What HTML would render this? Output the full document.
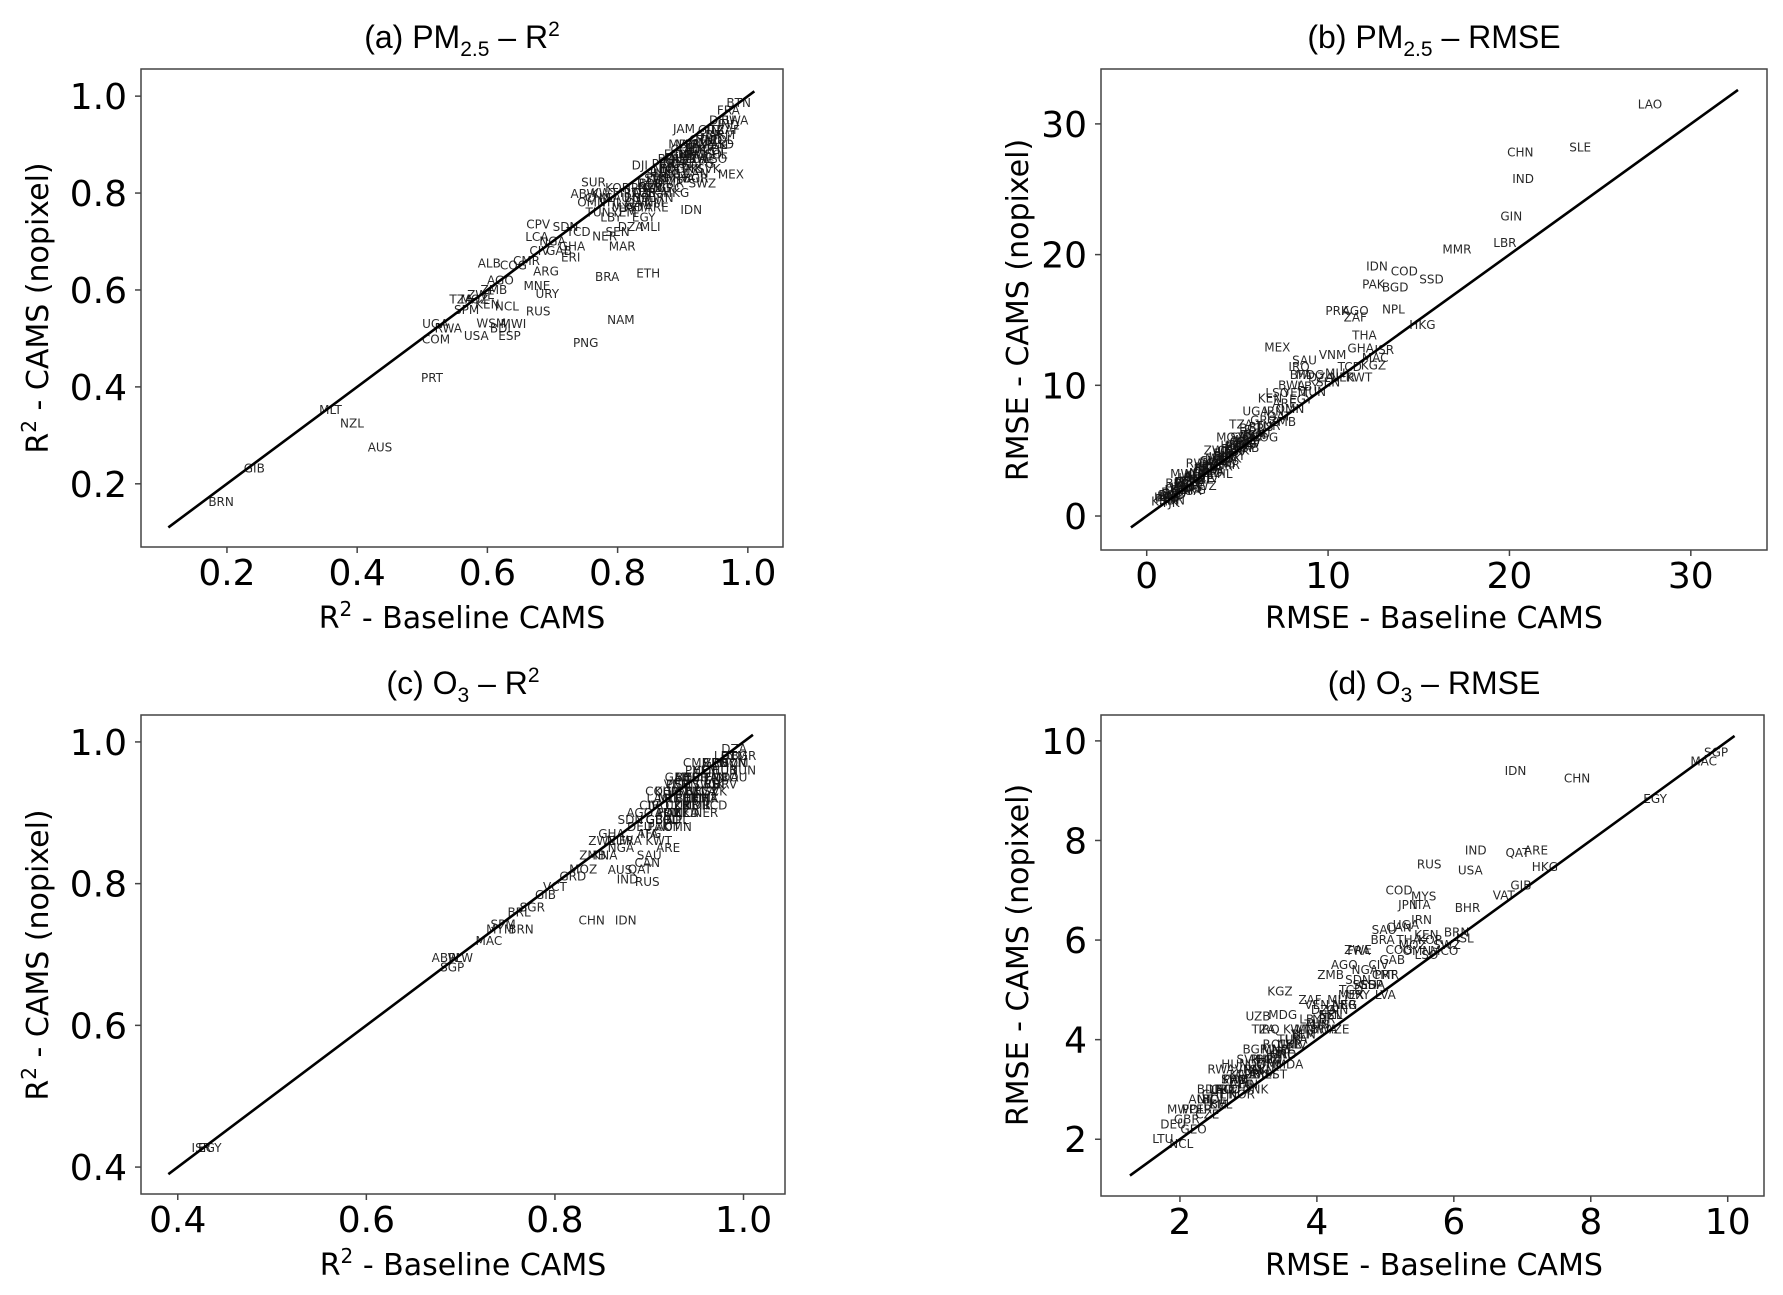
<!DOCTYPE html>
<html><head><meta charset="utf-8"><style>
html,body{margin:0;padding:0;background:#fff;}
svg{display:block;}
.tick{font-family:"DejaVu Sans","Liberation Sans",sans-serif;font-size:36px;fill:#000;}
.lab{font-family:"DejaVu Sans","Liberation Sans",sans-serif;font-size:30px;fill:#000;}
.ttl{font-family:"Liberation Sans",sans-serif;font-size:32px;fill:#000;}
.cc{font-family:"DejaVu Sans",sans-serif;font-size:12px;fill:#111;opacity:0.9;}
</style></head><body>
<svg id="fig" width="1783" height="1295" viewBox="0 0 1783 1295" xmlns="http://www.w3.org/2000/svg">
<rect width="1783" height="1295" fill="#fff"/>
<text class="ttl" x="462" y="48" text-anchor="middle">(a) PM<tspan font-size="21" dy="8">2.5</tspan><tspan dy="-8"> – R</tspan><tspan font-size="21" dy="-12">2</tspan></text>
<text class="ttl" x="1434" y="48" text-anchor="middle">(b) PM<tspan font-size="21" dy="8">2.5</tspan><tspan dy="-8"> – RMSE</tspan></text>
<text class="ttl" x="463" y="694" text-anchor="middle">(c) O<tspan font-size="21" dy="8">3</tspan><tspan dy="-8"> – R</tspan><tspan font-size="21" dy="-12">2</tspan></text>
<text class="ttl" x="1434" y="694" text-anchor="middle">(d) O<tspan font-size="21" dy="8">3</tspan><tspan dy="-8"> – RMSE</tspan></text>
<text class="lab" x="462" y="628" text-anchor="middle">R<tspan font-size="20" dy="-12">2</tspan><tspan dy="12"> - Baseline CAMS</tspan></text>
<text class="lab" x="1434" y="628" text-anchor="middle">RMSE - Baseline CAMS</text>
<text class="lab" x="463" y="1275" text-anchor="middle">R<tspan font-size="20" dy="-12">2</tspan><tspan dy="12"> - Baseline CAMS</tspan></text>
<text class="lab" x="1434" y="1275" text-anchor="middle">RMSE - Baseline CAMS</text>
<text class="lab" transform="translate(48,308) rotate(-90)" text-anchor="middle">R<tspan font-size="20" dy="-12">2</tspan><tspan dy="12"> - CAMS (nopixel)</tspan></text>
<text class="lab" transform="translate(1028,310) rotate(-90)" text-anchor="middle">RMSE - CAMS (nopixel)</text>
<text class="lab" transform="translate(48,955) rotate(-90)" text-anchor="middle">R<tspan font-size="20" dy="-12">2</tspan><tspan dy="12"> - CAMS (nopixel)</tspan></text>
<text class="lab" transform="translate(1028,955) rotate(-90)" text-anchor="middle">RMSE - CAMS (nopixel)</text>
</svg>
<script>
// ---- Panel (a) PM2.5 R2 ----
const aTicks = [0.2, 0.4, 0.6, 0.8, 1.0];
const aLine = [0.11, 1.01];
const aCodes = ["BRN","GIB","MLT","NZL","AUS","PRT","COM","USA","ESP","WSM","PNG","NAM","BRA","ETH","RUS","NCL","URY","MNE","ARG","ALB","SPM","ERI","CPV","SUR","ABW","JAM","MEX","IDN","BTN","DJI","MAR","LCA",
"FRA","DEU","ITA","GBR","POL","CZE","AUT","CHE","BEL","NLD","SWE","NOR","FIN","DNK","HUN","SVK","SVN","HRV","BGR","ROU","GRC","TUR","IRN","IRQ","SAU","KWT","QAT","ARE","OMN","YEM","EGY","LBY","TUN","DZA","SEN","MLI","NER","TCD","SDN","NGA","GHA","CIV","CMR","GAB","COG","AGO","ZMB","ZWE","MOZ","TZA","KEN","UGA","RWA","BDI","MWI","MDG","ZAF","BWA","LSO","SWZ",
"PER","BOL","ECU","COL","VEN","PRY","GTM","HND","SLV","NIC","CRI","PAN","CUB","DOM","HTI","UKR","BLR","LTU","LVA","EST","MDA","GEO","ARM","AZE","UZB","TKM","KGZ","TJK","AFG","PAK","BGD","NPL","LKA","MMR","THA","LAO","KHM","VNM","MYS","PHL","CHN","KOR","JPN","MNG","HKG","CAN","CHL","IND","SSD","GIN"];
const aBase = [0.191,0.242,0.359,0.392,0.435,0.515,0.521,0.583,0.634,0.606,0.751,0.805,0.784,0.847,0.678,0.630,0.692,0.676,0.690,0.603,0.568,0.728,0.678,0.763,0.749,0.902,0.974,0.913,0.986,0.834,0.807,0.676,
0.97,0.96,0.95,0.94,0.96,0.93,0.92,0.95,0.91,0.90,0.93,0.89,0.88,0.91,0.87,0.94,0.86,0.89,0.92,0.85,0.88,0.84,0.87,0.82,0.80,0.78,0.83,0.86,0.76,0.81,0.84,0.79,0.77,0.82,0.80,0.85,0.78,0.74,0.72,0.70,0.73,0.68,0.66,0.71,0.64,0.62,0.61,0.59,0.58,0.56,0.60,0.52,0.54,0.62,0.64,0.90,0.97,0.98,0.95,0.93,
0.87,0.88,0.89,0.90,0.91,0.92,0.93,0.94,0.86,0.87,0.88,0.89,0.90,0.91,0.92,0.93,0.85,0.86,0.88,0.90,0.92,0.94,0.96,0.84,0.85,0.87,0.89,0.91,0.93,0.95,0.83,0.84,0.86,0.88,0.90,0.82,0.83,0.85,0.81,0.79,0.77,0.80,0.83,0.86,0.89,0.92,0.95,0.97,0.96,0.94];
const aNopix = [0.162,0.232,0.352,0.324,0.275,0.418,0.498,0.505,0.505,0.531,0.491,0.538,0.627,0.634,0.556,0.566,0.592,0.608,0.638,0.655,0.559,0.667,0.735,0.822,0.798,0.932,0.838,0.765,0.986,0.857,0.690,0.709,
0.97,0.95,0.93,0.92,0.91,0.90,0.89,0.89,0.88,0.87,0.87,0.86,0.85,0.85,0.84,0.85,0.83,0.83,0.83,0.82,0.81,0.80,0.79,0.80,0.79,0.80,0.78,0.77,0.78,0.76,0.75,0.75,0.76,0.73,0.72,0.73,0.71,0.72,0.73,0.70,0.69,0.68,0.66,0.68,0.65,0.62,0.60,0.59,0.58,0.58,0.57,0.53,0.52,0.52,0.53,0.90,0.93,0.95,0.87,0.82,
0.86,0.87,0.88,0.89,0.90,0.90,0.91,0.91,0.84,0.85,0.86,0.87,0.88,0.88,0.89,0.89,0.82,0.83,0.85,0.86,0.87,0.88,0.92,0.80,0.81,0.83,0.84,0.85,0.86,0.90,0.79,0.79,0.80,0.82,0.83,0.77,0.77,0.78,0.77,0.78,0.79,0.81,0.81,0.81,0.80,0.84,0.88,0.94,0.90,0.93];

// ---- Panel (b) PM2.5 RMSE ----
const bTicks = [0, 10, 20, 30];
const bLine = [-0.87, 32.6];
const bCodes = ["LAO","SLE","CHN","IND","GIN","LBR","MMR","IDN","COD","SSD","PAK","BGD","PRK","AGO","ZAF","NPL","HKG","THA","GHA","ISR","MAC","MEX","SAU","VNM","IRQ","BFA","KWT",
"FRA","DEU","ITA","GBR","POL","CZE","AUT","CHE","BEL","NLD","SWE","NOR","FIN","DNK","HUN","SVK","SVN","HRV","BGR","ROU","GRC","TUR","IRN","QAT","ARE","OMN","YEM","EGY","LBY","TUN","DZA","SEN","MLI","NER","TCD","SDN","NGA","CIV","CMR","GAB","COG","ZMB","ZWE","MOZ","TZA","KEN","UGA","RWA","BDI","MWI","MDG","BWA","LSO","SWZ","PHL","KHM","UZB","TJK","AFG","KGZ",
"PER","BOL","ECU","COL","VEN","PRY","GTM","HND","SLV","NIC","CRI","PAN","CUB","DOM","HTI","UKR","BLR","LTU","LVA","EST","MDA","GEO","ARM","AZE","TKM","LKA","MYS","KOR","JPN","MNG","CAN","CHL","USA","RUS","AUS","NZL","BRA","ARG","URY","ESP"];
const bBase = [27.75,23.9,20.6,20.75,20.1,19.75,17.1,12.7,14.2,15.7,12.5,13.7,10.5,11.5,11.5,13.6,15.2,12.0,11.8,13.1,12.6,7.2,8.7,10.25,8.4,8.5,11.7,
1.2,1.5,1.8,2.0,2.2,2.5,2.7,3.0,3.2,3.5,3.7,4.0,4.2,4.5,4.8,5.0,5.3,5.6,5.8,6.1,6.4,6.7,7.0,7.3,7.6,7.9,8.2,8.5,8.9,9.2,9.6,10.0,10.4,10.8,11.2,1.4,2.3,3.4,4.4,5.5,6.5,7.5,3.9,4.6,5.2,6.8,6.0,2.9,1.6,2.0,9.0,8.0,7.2,3.1,4.1,1.0,1.1,1.3,2.6,12.5,
1.1,1.3,1.5,1.7,1.9,2.1,2.3,2.5,2.7,2.9,3.1,3.3,3.5,3.7,3.9,4.1,4.3,4.5,4.7,4.9,5.1,5.3,5.5,5.7,5.9,1.6,2.2,2.8,3.4,4.0,4.6,5.2,5.8,6.3,2.4,3.0,3.6,4.2,4.8,5.4];
const bNopix = [31.5,28.2,27.8,25.8,22.9,20.9,20.4,19.1,18.7,18.1,17.7,17.5,15.7,15.7,15.2,15.8,14.6,13.8,12.8,12.7,12.1,12.9,11.9,12.3,11.4,10.8,10.6,
1.5,1.8,2.2,2.0,2.6,2.4,3.1,2.8,3.6,3.3,4.2,3.8,4.8,4.4,5.4,5.0,6.0,5.6,6.7,6.3,7.3,6.9,8.0,7.6,8.6,8.2,9.4,8.9,9.9,9.5,10.6,10.2,10.9,10.6,11.4,1.2,1.9,2.9,3.9,5.2,6.0,7.2,5.0,6.0,7.0,9.0,8.0,4.0,2.5,3.2,10.8,10.0,9.4,2.3,3.2,1.1,1.4,1.0,2.0,11.5,
1.3,1.6,1.7,2.1,2.2,2.5,2.6,2.9,3.0,3.3,3.4,3.7,3.8,4.1,4.2,4.5,4.6,4.9,5.0,5.3,5.4,5.7,5.8,6.1,6.2,2.0,2.6,3.2,3.8,4.4,5.0,5.6,6.2,6.8,2.2,2.8,3.4,4.0,4.6,5.2];

// ---- Panel (c) O3 R2 ----
const cTicks = [0.4, 0.6, 0.8, 1.0];
const cLine = [0.39, 1.01];
const cCodes = ["EGY","ISR","ABW","SGP","PLW","MAC","MYM","SPM","BRN","BRL","SGR","GIB","VCT","GRD","CHN","IDN","AUS","IND","RUS","KNA","NLW","CAN",
"FRA","DEU","ITA","GBR","POL","CZE","AUT","CHE","BEL","NLD","SWE","NOR","FIN","DNK","HUN","SVK","SVN","HRV","BGR","ROU","GRC","TUR","IRN","IRQ","SAU","KWT","QAT","ARE","OMN","YEM","LBY","TUN","DZA","SEN","MLI","NER","TCD","SDN","NGA","GHA","CIV","CMR","GAB","COG","AGO","ZMB","ZWE","MOZ",
"PER","BOL","ECU","COL","VEN","PRY","GTM","HND","SLV","NIC","CRI","PAN","CUB","DOM","HTI","UKR","BLR","LTU","LVA","EST","MDA","GEO","ARM","AZE","UZB","TKM","KGZ","TJK","AFG","PAK","BGD","NPL","LKA","MMR","THA","LAO","KHM","VNM","MYS","PHL"];
const cBase = [0.434,0.425,0.684,0.691,0.700,0.730,0.742,0.745,0.764,0.762,0.776,0.790,0.800,0.819,0.839,0.875,0.869,0.877,0.898,0.853,0.869,0.898,
0.88,0.89,0.90,0.91,0.92,0.93,0.92,0.94,0.95,0.94,0.96,0.95,0.97,0.96,0.98,0.97,0.99,0.98,1.0,0.99,0.97,0.95,0.93,0.91,0.90,0.91,0.89,0.92,0.93,0.96,0.98,1.0,0.99,0.94,0.92,0.96,0.97,0.88,0.87,0.86,0.90,0.95,0.93,0.91,0.89,0.84,0.85,0.83,
0.93,0.94,0.95,0.96,0.97,0.98,0.99,0.93,0.94,0.95,0.96,0.97,0.98,0.99,0.92,0.93,0.94,0.95,0.96,0.97,0.98,0.91,0.92,0.93,0.94,0.95,0.96,0.97,0.90,0.91,0.92,0.93,0.94,0.95,0.96,0.91,0.92,0.93,0.94,0.95,0.96,0.97,0.98,0.99];
const cNopix = [0.427,0.427,0.695,0.682,0.695,0.719,0.735,0.742,0.735,0.759,0.766,0.784,0.795,0.810,0.748,0.748,0.819,0.806,0.802,0.840,0.861,0.829,
0.86,0.88,0.87,0.89,0.90,0.91,0.88,0.92,0.93,0.90,0.94,0.91,0.95,0.92,0.96,0.93,0.97,0.94,0.98,0.95,0.97,0.95,0.93,0.91,0.84,0.86,0.82,0.85,0.88,0.96,0.98,0.96,0.99,0.94,0.92,0.90,0.91,0.89,0.85,0.87,0.91,0.97,0.95,0.93,0.90,0.84,0.86,0.82,
0.94,0.95,0.95,0.96,0.97,0.97,0.98,0.92,0.93,0.93,0.94,0.95,0.96,0.97,0.90,0.91,0.92,0.92,0.93,0.94,0.95,0.89,0.90,0.90,0.91,0.92,0.93,0.94,0.87,0.88,0.89,0.89,0.90,0.91,0.92,0.92,0.93,0.94,0.95,0.96,0.96,0.97,0.97,0.98];

// ---- Panel (d) O3 RMSE ----
const dTicks = [2, 4, 6, 8, 10];
const dLine = [1.27, 10.1];
const dCodes = ["SGP","MAC","EGY","IDN","CHN","IND","QAT","ARE","RUS","USA","HKG","GIB","VAT","COD","MYS","JPN","ITA","BHR","IRN","SAU","CAN","BRA","THA","KOR","BRN","ISL","FRA","OMN","MCO","KGZ","UZB","TZA","VEN","LTU","NCL",
"DEU","GBR","POL","CZE","AUT","CHE","BEL","NLD","SWE","NOR","FIN","DNK","HUN","SVK","SVN","HRV","BGR","ROU","GRC","TUR","IRQ","KWT","YEM","LBY","TUN","DZA","SEN","MLI","NER","TCD","SDN","NGA","GHA","CIV","CMR","GAB","COG","AGO","ZMB","ZWE","MOZ","KEN","UGA","RWA","BDI","MWI","MDG","ZAF","BWA","LSO","SWZ","LVA","EST","MDA","GEO","ARM","AZE","KAZ",
"PER","BOL","ECU","COL","PRY","GTM","HND","SLV","NIC","CRI","PAN","CUB","DOM","HTI","UKR","BLR","TKM","TJK","AFG","PAK","BGD","NPL","LKA","MMR","LAO","KHM","VNM","PHL","MNG","CHL","AUS","NZL","ARG","URY","ESP","PRT","MEX","SSD","GIN","LBR"];
const dBase = [9.83,9.65,8.94,6.9,7.8,6.32,6.93,7.2,5.64,6.24,7.33,6.98,6.73,5.2,5.56,5.33,5.53,6.2,5.53,4.98,5.2,4.96,5.34,5.66,6.04,6.16,4.61,5.46,5.86,3.46,3.14,3.22,4.0,1.75,2.02,
1.9,2.1,2.2,2.4,2.3,2.5,2.6,2.7,2.8,2.9,3.0,3.1,2.8,3.0,3.2,3.3,3.1,3.4,3.5,3.6,3.3,3.7,3.8,3.9,4.0,4.1,4.2,4.3,4.4,4.5,4.6,4.7,4.8,4.9,5.0,5.1,5.2,4.4,4.2,4.6,5.4,5.6,5.3,2.6,2.4,2.0,3.5,3.9,4.1,5.6,5.9,5.0,3.4,3.6,2.2,3.2,4.3,2.9,
2.3,2.5,2.7,2.9,3.1,3.3,3.5,3.7,2.4,2.6,2.8,3.0,3.2,3.4,3.6,3.8,2.5,2.7,2.9,3.1,3.3,3.5,3.7,3.9,2.6,2.8,3.0,3.2,3.4,3.6,4.0,4.2,4.4,4.6,4.8,5.0,4.5,4.7,4.3,4.1];
const dNopix = [9.77,9.59,8.83,9.4,9.24,7.8,7.75,7.8,7.52,7.4,7.47,7.1,6.9,7.0,6.87,6.7,6.7,6.64,6.4,6.2,6.25,6.0,6.0,6.0,6.15,6.03,5.78,5.78,5.78,4.97,4.46,4.2,4.7,2.0,1.9,
2.3,2.4,2.6,2.5,2.8,2.9,2.7,3.0,3.2,2.9,3.1,3.0,3.5,3.6,3.4,3.6,3.8,3.9,3.7,4.0,4.2,4.2,4.1,4.4,4.3,4.6,4.5,4.8,4.7,5.0,5.2,5.4,5.1,5.5,5.3,5.6,5.8,5.5,5.3,5.8,5.9,6.1,6.3,3.4,3.0,2.6,4.5,4.8,4.2,5.7,5.9,4.9,3.3,3.5,2.2,3.3,4.2,3.3,
2.6,2.8,3.0,3.1,3.3,3.5,3.7,3.9,2.8,3.0,3.2,3.3,3.5,3.7,3.9,4.1,2.7,2.9,3.1,3.4,3.6,3.8,4.0,4.2,3.0,3.2,3.4,3.6,3.8,3.9,4.3,4.5,4.7,4.9,5.1,5.3,4.9,5.1,4.6,4.4];

const NS = "http://www.w3.org/2000/svg";
const fig = document.getElementById('fig');
function mk(tag, attrs, parent) {
  const e = document.createElementNS(NS, tag);
  for (const k in attrs) e.setAttribute(k, attrs[k]);
  (parent || fig).appendChild(e);
  return e;
}
function panel(id, box, dom, ticks, fmt, line, codes, xs, ys) {
  const g = mk('g', {});
  
  
  const sx = v => box.l + (v - dom.x0) / (dom.x1 - dom.x0) * (box.r - box.l);
  const sy = v => box.b - (v - dom.y0) / (dom.y1 - dom.y0) * (box.b - box.t);
  for (let i = 0; i < codes.length; i++) {
    const t = mk('text', {x: sx(xs[i]).toFixed(1), y: sy(ys[i]).toFixed(1), 'text-anchor': 'middle', 'dominant-baseline': 'central', 'class': 'cc'}, g);
    
    
    t.textContent = codes[i];
  }
  const ln = mk('line', {x1: sx(line[0]), y1: sy(line[0]), x2: sx(line[1]), y2: sy(line[1]), stroke: '#000', 'stroke-width': 2.6}, g);
  
  
  const fr = mk('rect', {x: box.l, y: box.t, width: box.r - box.l, height: box.b - box.t, fill: 'none', stroke: '#444', 'stroke-width': 1.5}, g);
  
  
  for (const v of ticks) {
    if (v >= dom.x0 && v <= dom.x1) {
      mk('line', {x1: sx(v), x2: sx(v), y1: box.b, y2: box.b + 6, stroke: '#444', 'stroke-width': 1.5}, g);
      const t = mk('text', {x: sx(v), y: box.b + 38, 'text-anchor': 'middle', 'class': 'tick'}, g);
      
      
      t.textContent = fmt(v);
    }
    if (v >= dom.y0 && v <= dom.y1) {
      mk('line', {x1: box.l - 6, x2: box.l, y1: sy(v), y2: sy(v), stroke: '#444', 'stroke-width': 1.5}, g);
      const t = mk('text', {x: box.l - 14, y: sy(v) + 13, 'text-anchor': 'end', 'class': 'tick'}, g);
      
      
      t.textContent = fmt(v);
    }
  }
}
const f1 = v => v.toFixed(1), f0 = v => String(v);
panel('a', {l:141, t:69, r:783, b:547}, {x0:0.068, x1:1.054, y0:0.0696, y1:1.056}, aTicks, f1, aLine, aCodes, aBase, aNopix);
panel('b', {l:1101, t:69, r:1767, b:550}, {x0:-2.52, x1:34.2, y0:-2.6, y1:34.2}, bTicks, f0, bLine, bCodes, bBase, bNopix);
panel('c', {l:141, t:715, r:785, b:1194}, {x0:0.361, x1:1.044, y0:0.362, y1:1.038}, cTicks, f1, cLine, cCodes, cBase, cNopix);
panel('d', {l:1101, t:715, r:1764, b:1196}, {x0:0.847, x1:10.53, y0:0.86, y1:10.52}, dTicks, f0, dLine, dCodes, dBase, dNopix);
</script>
</body></html>
